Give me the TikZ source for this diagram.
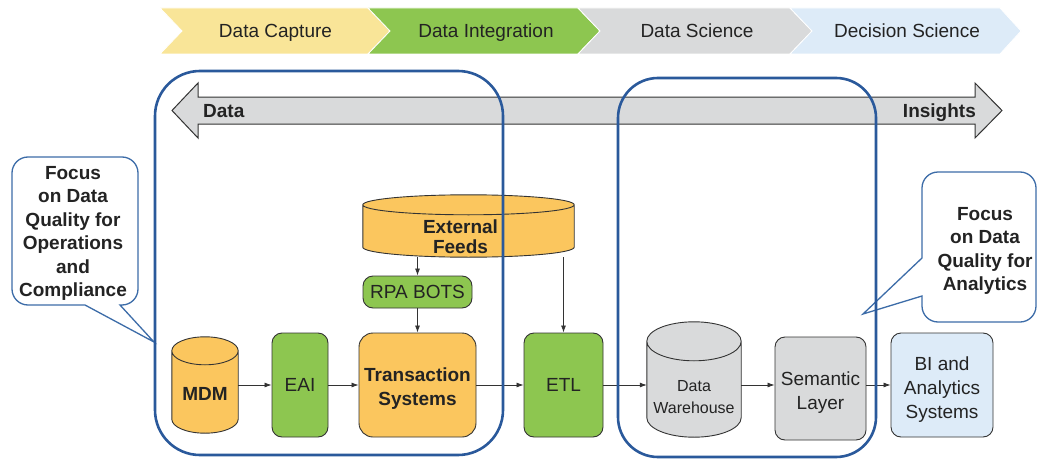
\documentclass[tikz,border=0pt]{standalone}
\usepackage{fontspec}
\setmainfont{Liberation Sans}
\usetikzlibrary{arrows.meta,calc,backgrounds}

\definecolor{linec}{RGB}{51,51,51}
\definecolor{textc}{RGB}{35,35,35}
\definecolor{orangef}{RGB}{251,198,94}
\definecolor{greenf}{RGB}{141,198,80}
\definecolor{grayf}{RGB}{217,218,219}
\definecolor{bluef}{RGB}{221,235,248}
\definecolor{yellowf}{RGB}{249,229,152}
\definecolor{frameblue}{RGB}{42,89,155}
\definecolor{callblue}{RGB}{60,108,168}

\newcommand\lbl{\fontsize{19}{24}\selectfont}
\newcommand\lblb{\fontsize{19}{24}\selectfont\bfseries}
\newcommand\lblbtight{\fontsize{19}{20}\selectfont\bfseries}
\newcommand\lblsmall{\fontsize{16}{22}\selectfont}
\newcommand\calltext{\fontsize{19}{23.4}\selectfont\bfseries}
% taller first line: pushes a multi-line label down inside its box
\newcommand\dn[1]{\rule{0pt}{#1}}

% cylinder drawn behind a named node of the same size
\newcommand\cylinder[3]{%
  \begin{scope}[on background layer]
    \path let \p1=(#1.north west), \p2=(#1.south east), \n1={(\x2-\x1)/2} in
      [fill=#3, draw=linec, line width=0.9pt]
      (\x1,\y1-#2) -- (\x1,\y2+#2)
        arc[start angle=180, end angle=360, x radius=\n1, y radius=#2]
      -- (\x2,\y1-#2)
        arc[start angle=0, end angle=180, x radius=\n1, y radius=#2] -- cycle
      (\x1,\y1-#2) arc[start angle=180, end angle=360, x radius=\n1, y radius=#2];
  \end{scope}}

\tikzset{
  box/.style={draw=linec, line width=0.9pt, rounded corners=10pt, inner sep=0pt,
    align=center, text=textc, font=\lbl},
  cylbox/.style={inner sep=0pt},
  arr/.style={draw=linec, line width=0.8pt, -{Latex[length=7pt,width=5pt]}},
  frame/.style={draw=frameblue, line width=2.6pt},
  callout/.style={draw=callblue, line width=1.3pt, fill=white},
  chev/.style={draw=white, line width=0.8pt},
  bannertext/.style={text=textc, font=\lbl, inner sep=0pt, anchor=base},
}

\begin{document}
\begin{tikzpicture}[x=1pt,y=1pt]
\begin{scope}[on background layer]
  \fill[white] (0,0) rectangle (1038,-460);
\end{scope}
\useasboundingbox (0,0) rectangle (1038,-460);

% phase banner
\fill[yellowf, chev] (160,-8) -- (368,-8) -- (390,-31) -- (368,-54) -- (160,-54) -- (182,-31) -- cycle;
\fill[greenf, chev] (368,-8) -- (578,-8) -- (600,-31) -- (578,-54) -- (368,-54) -- (390,-31) -- cycle;
\fill[grayf, chev] (578,-8) -- (790,-8) -- (812,-31) -- (790,-54) -- (578,-54) -- (600,-31) -- cycle;
\fill[bluef, chev] (790,-8) -- (1000,-8) -- (1021,-31) -- (1000,-54) -- (790,-54) -- (812,-31) -- cycle;
\node[bannertext] (p1) at (275.5,-37.5) {Data Capture};
\node[bannertext] (p2) at (486,-37.5) {Data Integration};
\node[bannertext] (p3) at (697,-37.5) {Data Science};
\node[bannertext] (p4) at (907,-37.5) {Decision Science};

% data -> insights double arrow
\filldraw[fill=grayf, draw=linec, line width=1pt]
  (172,-110.5) -- (198,-83) -- (198,-97) -- (975,-97) -- (975,-83) -- (1002,-110.5)
  -- (975,-138) -- (975,-124) -- (198,-124) -- (198,-138) -- cycle;
\node[text=textc, font=\lblb, inner sep=0pt, anchor=base west] (dlbl) at (203,-117) {Data};
\node[text=textc, font=\lblb, inner sep=0pt, anchor=base east] (ilbl) at (976,-117) {Insights};

% nodes
\node[cylbox, minimum width=211pt, minimum height=62pt,
  label={[xshift=-8pt, yshift=-10.5pt, align=center, text=textc, font=\lblbtight]center:{External\\Feeds}}]
  (ext) at (468.5,-226) {};
\cylinder{ext}{10pt}{orangef}

\node[box, fill=greenf, minimum width=109pt, minimum height=32pt] (rpa) at (417.5,-292) {RPA BOTS};

\node[cylbox, minimum width=66pt, minimum height=96pt,
  label={[yshift=-9pt, text=textc, font=\lblb]center:MDM}] (mdm) at (205,-385) {};
\cylinder{mdm}{14pt}{orangef}

\node[box, fill=greenf, minimum width=56pt, minimum height=104pt] (eai) at (300,-385) {EAI};
\node[box, fill=orangef, font=\lblb, rounded corners=14pt, minimum width=117pt, minimum height=104pt]
  (trans) at (417.5,-385) {\dn{20.7pt}Transaction\\Systems};
\node[box, fill=greenf, minimum width=79pt, minimum height=104pt] (etl) at (563.5,-385) {ETL};

\node[cylbox, minimum width=94pt, minimum height=115pt,
  label={[yshift=-17.5pt, align=center, text=textc, font=\lblsmall]center:{Data\\Warehouse}}]
  (dw) at (694,-379.5) {};
\cylinder{dw}{19.5pt}{grayf}

\node[box, fill=grayf, minimum width=91pt, minimum height=103pt] (sem) at (820.5,-388.5)
  {\dn{21.7pt}Semantic\\Layer};
\node[box, fill=bluef, minimum width=102pt, minimum height=104pt] (bi) at (942,-385)
  {\dn{23.7pt}BI and\\Analytics\\Systems};

% connectors
\draw[arr] (ext.south -| rpa.north) -- (rpa.north);
\draw[arr] (rpa.south) -- (trans.north);
\draw[arr] (ext.south -| etl.north) -- (etl.north);
\draw[arr] (mdm.east) -- (eai.west);
\draw[arr] (eai.east) -- (trans.west);
\draw[arr] (trans.east) -- (etl.west);
\draw[arr] (etl.east) -- (etl.east -| dw.west);
\draw[arr] (etl.east -| dw.east) -- (etl.east -| sem.west);
\draw[arr] (etl.east -| sem.east) -- (bi.west);

% callouts
\draw[callout] (85,-305) -- (28,-305) arc[start angle=270, end angle=180, radius=16pt]
  -- (12,-173) arc[start angle=180, end angle=90, radius=16pt]
  -- (122,-157) arc[start angle=90, end angle=0, radius=16pt]
  -- (138,-289) arc[start angle=0, end angle=-90, radius=16pt]
  -- (120,-305) -- (154,-342) -- cycle;
\node[text=textc, font=\calltext, align=center, inner sep=0pt] (lcall) at (73,-233.5)
  {Focus\\on Data\\Quality for\\Operations\\and\\Compliance};

\draw[callout] (922,-258) -- (922,-188) arc[start angle=180, end angle=90, radius=16pt]
  -- (1020,-172) arc[start angle=90, end angle=0, radius=16pt]
  -- (1036,-306) arc[start angle=0, end angle=-90, radius=16pt]
  -- (938,-322) arc[start angle=270, end angle=180, radius=16pt]
  -- (922,-296) -- (863,-314) -- cycle;
\node[text=textc, font=\calltext, align=center, inner sep=0pt] (rcall) at (985,-251)
  {Focus\\on Data\\Quality for\\Analytics};

% focus frames
\draw[frame, rounded corners=45pt] (155,-71) rectangle (503,-455);
\draw[frame, rounded corners=40pt] (618,-78) rectangle (876,-457);
\end{tikzpicture}
\end{document}
